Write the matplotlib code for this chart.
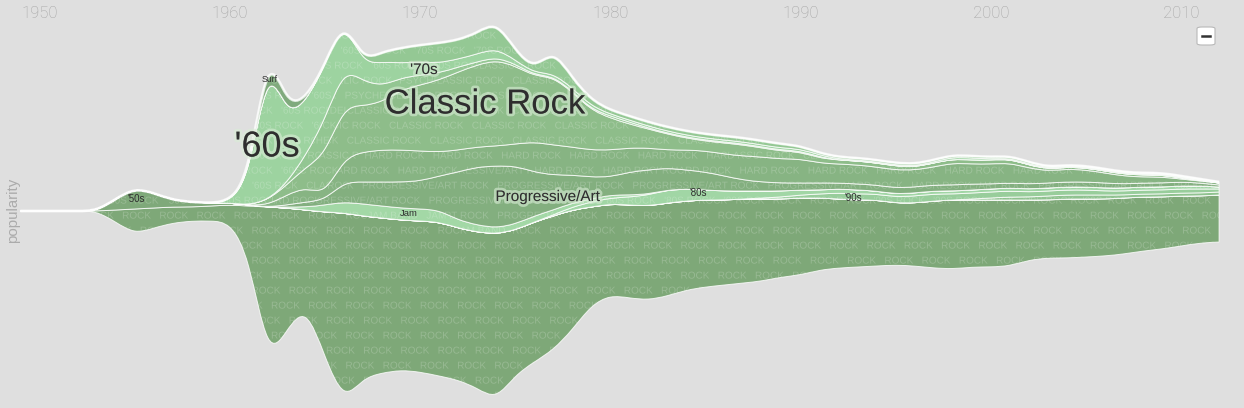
import numpy as np
import matplotlib.pyplot as plt
from matplotlib.path import Path
from matplotlib.patches import PathPatch, FancyBboxPatch
from matplotlib.textpath import TextPath
from matplotlib.font_manager import FontProperties
from matplotlib.transforms import Affine2D
import matplotlib.patheffects as pe

plt.rcParams['font.family'] = ['Liberation Sans', 'DejaVu Sans']

years = list(range(1949, 2013))

# bottom edge of the stream (popularity units, 0 = centre line)
baseline = [0, 0, 0, 0, 0, -11, -23, -17, -12, -10, -10, -11, -44, -149, -119, -94,
            -146, -191, -167, -162, -159, -161, -165, -169, -177, -189, -164, -151, -139, -119,
            -94, -84, -87, -89, -85, -79, -76, -74, -72, -70, -66, -64, -59, -57, -56, -55,
            -54, -55, -57, -58, -56, -56, -55, -49, -47, -47, -46, -45, -43, -40, -38, -35, -32, -31]

rock = [0, 0, 0, 0, 0, 12, 25, 20, 16, 14, 15, 17, 49, 153, 122, 95,
        145, 189, 162, 155, 150, 151, 154, 152, 156, 166, 145, 140, 134, 120,
        98, 91, 93, 94, 93, 89, 87, 85, 84, 82, 78, 77, 72, 69, 67, 66,
        62, 63, 67, 69, 67, 67, 66, 60, 58, 59, 58, 57, 56, 54, 52, 50, 47, 47]
fifties = [0, 0, 0, 0, 0, 11, 21, 15, 7, 5, 3, 2, 1] + [0] * 51
rock00s = [0] * 50 + [1, 2, 3, 3, 4, 4, 4, 4, 3, 3, 3, 3, 3, 3]
rock90s = [0] * 39 + [1, 2, 3, 4, 6, 6, 6, 6, 7, 7, 6, 6, 6, 6, 5, 5, 5, 5, 4, 4, 4, 4, 4, 4, 3]
rock80s = [0] * 28 + [1, 3, 5, 6, 8, 11, 13, 12, 10, 9, 8, 7, 6, 5, 4, 4, 4, 3, 3, 3, 3,
                      3, 3, 3, 3, 3, 3, 3, 3, 3, 3, 3, 3, 3, 3, 2]
jam = [0] * 14 + [1, 3, 7, 11, 12, 12, 12, 12, 12, 8, 7, 6, 6, 6, 5, 4, 3, 3, 2, 1] + [0] * 30
prog = [0] * 14 + [2, 5, 5, 20, 22, 24, 26, 28, 34, 48, 58, 62, 58, 44, 35, 28, 22,
                   18, 23, 24, 22, 19, 18, 15, 11, 9, 8, 7, 7, 6, 6, 6, 6, 6, 6, 6, 6,
                   5, 5, 5, 5, 5, 5, 5, 4, 4, 4, 4, 3, 2]
hard = [0] * 13 + [2, 10, 15, 5, 24, 30, 32, 32, 30, 24, 22, 20, 20, 22, 30, 30, 28, 27,
                   27, 24, 22, 18, 20, 21, 22, 24, 25, 24, 24, 20, 19, 19, 18, 18, 17, 18,
                   22, 20, 20, 20, 16, 12, 13, 12, 10, 8, 6, 6, 3, 2, 2]
classic = [0] * 13 + [5, 10, 20, 40, 52, 46, 48, 60, 66, 72, 78, 82, 86, 78, 66, 68, 55, 40,
                      32, 24, 19, 16, 12, 10, 11, 11, 9, 8, 7, 5, 4, 4, 4, 4, 3, 4, 4, 4,
                      4, 4, 3, 2, 2, 2, 2, 2, 2, 2, 1, 1, 0]
psych = [0] * 14 + [2, 12, 35, 38, 25, 16, 12, 10, 7, 5, 3, 3, 2, 1, 1, 1, 1, 2, 2, 1, 1,
                    1, 1, 1, 1, 1, 1, 1, 1] + [0] * 21
sixties = [0] * 11 + [2, 26, 140, 67, 53, 55, 49, 17, 24, 15, 13, 10, 8, 8, 9, 4, 2, 3, 3, 3,
                      2, 2, 2, 2, 2, 2, 2, 2, 2, 2, 2, 2, 1, 1, 1, 1, 1, 1, 2, 2, 1, 1, 1,
                      1, 1, 1, 1, 1, 1, 1, 1, 0, 0]
seventies = [0] * 18 + [3, 10, 15, 17, 20, 19, 21, 27, 10, 3, 24, 10, 6, 4, 4, 4, 4, 4, 4,
                        4, 4, 4, 4, 3, 2, 2, 2, 2, 2, 2, 2, 2, 2, 2, 2, 2, 1, 1, 1, 1, 1,
                        1, 1, 1, 1, 1]
surf = [0] * 12 + [2, 14, 10, 3] + [0] * 48

layer_names = ["ROCK", "'50S ROCK", "'00S ROCK", "'90S ROCK", "'80S ROCK", "JAM BAND",
               "PROGRESSIVE/ART ROCK", "HARD ROCK", "CLASSIC ROCK", "PSYCHEDELIC ROCK",
               "'60S ROCK", "'70S ROCK", "SURF"]
layer_values = [rock, fifties, rock00s, rock90s, rock80s, jam, prog, hard, classic,
                psych, sixties, seventies, surf]
layer_colors = ["#7ea878", "#7fa97a", "#8fc28f", "#98cd9b", "#a1d6a5", "#a3d8a6",
                "#83af7f", "#87b483", "#8ebd8a", "#93c692", "#9dd3a0", "#94c894", "#80aa7d"]

labels = [("'60s", 1961.96, 64, 26), ("Classic Rock", 1973.42, 107, 25), ("'70s", 1970.2, 141, 11),
          ("Progressive/Art", 1976.7, 14, 11), ("Surf", 1962.1, 132, 6.3), ("'50s", 1955.1, 12, 7),
          ("Jam", 1969.4, -2, 6.8), ("'80s", 1984.6, 18, 7), ("'90s", 1992.8, 13, 7)]


def basis(xs, ys):
    p = list(zip(xs, ys))
    v = [p[0], ((5 * p[0][0] + p[1][0]) / 6, (5 * p[0][1] + p[1][1]) / 6)]
    c = [Path.MOVETO, Path.LINETO]
    pts = p + [p[-1]]
    for i in range(2, len(pts)):
        (x0, y0), (x1, y1), (x, y) = pts[i - 2], pts[i - 1], pts[i]
        v += [((2 * x0 + x1) / 3, (2 * y0 + y1) / 3), ((x0 + 2 * x1) / 3, (y0 + 2 * y1) / 3),
              ((x0 + 4 * x1 + x) / 6, (y0 + 4 * y1 + y) / 6)]
        c += [Path.CURVE4] * 3
    v.append(p[-1])
    c.append(Path.LINETO)
    return v, c


def area_path(xs, lo, hi):
    v1, c1 = basis(xs, hi)
    v2, c2 = basis(xs[::-1], lo[::-1])
    c2[0] = Path.LINETO
    return Path(v1 + v2 + [v1[0]], c1 + c2 + [Path.CLOSEPOLY])


fig = plt.figure(figsize=(12.44, 4.08), dpi=100)
fig.patch.set_facecolor('#dfdfdf')
ax = fig.add_axes([0, 0, 1, 1])
ax.set_facecolor('#dfdfdf')
ax.set_xlim(1947.924, 2013.31)
ax.set_ylim(-197, 211)

fp = FontProperties(family='Liberation Sans')
x = np.array(years, dtype=float)
lo = np.array(baseline, dtype=float)
row_px = np.arange(5, 408, 15)  # watermark rows, pixels from the top
for name, vals, col in zip(layer_names, layer_values, layer_colors):
    hi = lo + np.array(vals, dtype=float)
    patch = PathPatch(area_path(list(x), list(lo), list(hi)), facecolor=col,
                      edgecolor=(1, 1, 1, 0.8), lw=0.7, zorder=2)
    ax.add_patch(patch)

    # repeated layer name, clipped to the layer shape
    nz = [i for i, v in enumerate(vals) if v > 0]
    x0 = ax.transData.transform((years[max(nz[0] - 1, 0)], 0))[0]
    x1 = ax.transData.transform((years[min(nz[-1] + 1, len(years) - 1)], 0))[0]
    top_px = 408 - ax.transData.transform((0, hi.max()))[1]
    bot_px = 408 - ax.transData.transform((0, lo.min()))[1]
    unit = name + "   "
    uw = TextPath((0, 0), unit + "|", size=10, prop=fp).get_extents().x1
    reps = int((x1 - x0) / uw) + 3
    tp = TextPath((0, 0), unit * reps, size=10, prop=fp)
    for k, r in enumerate(row_px):
        if r < top_px - 8 or r > bot_px + 8:
            continue
        sx = x0 - uw * ((k % 2) * 0.5 + 0.3)
        tr = Affine2D().translate(sx, 408 - r - 3.6)
        wm = PathPatch(tp, transform=tr, facecolor=(1, 1, 1, 0.2), edgecolor='none', zorder=3)
        ax.add_artist(wm)
        wm.set_clip_path(patch)
    lo = hi

# glowing outline along the top of the stream
v, c = basis(list(x), list(lo))
ax.add_patch(PathPatch(Path(v, c), fill=False, edgecolor=(1, 1, 1, 0.75), lw=2.0, zorder=4))

glow = [pe.withStroke(linewidth=4, foreground=(0.85, 0.93, 0.84, 0.6))]
for txt, lx, ly, size in labels:
    ax.text(lx, ly, txt, fontsize=size, color='#2e2e2e', ha='center', va='center',
            zorder=5, path_effects=glow if size > 9 else None)

ax.xaxis.tick_top()
ax.set_xticks([1950, 1960, 1970, 1980, 1990, 2000, 2010])
ax.tick_params(axis='x', length=0, pad=-15, labelsize=12, labelcolor='#a4a4a4')
for lbl in ax.get_xticklabels():
    lbl.set_fontfamily(['Roboto', 'Liberation Sans'])
    lbl.set_fontweight('light')
ax.set_yticks([])
for s in ax.spines.values():
    s.set_visible(False)

fig.text(13 / 1244, 1 - 210 / 408, 'popularity', rotation=90, fontsize=10.8,
         color='#ababab', ha='center', va='center')

btn = FancyBboxPatch((1197 / 1244, 1 - 45 / 408), 18 / 1244, 18 / 408,
                     boxstyle='round,pad=0,rounding_size=0.004', transform=fig.transFigure,
                     facecolor='white', edgecolor='#b8b8b8', lw=0.8)
fig.patches.append(btn)
fig.add_artist(plt.Line2D([1202 / 1244, 1210 / 1244], [1 - 36 / 408, 1 - 36 / 408],
                          transform=fig.transFigure, color='#333333', lw=1.8))

fig.savefig('out.png', dpi=100, facecolor=fig.get_facecolor())
